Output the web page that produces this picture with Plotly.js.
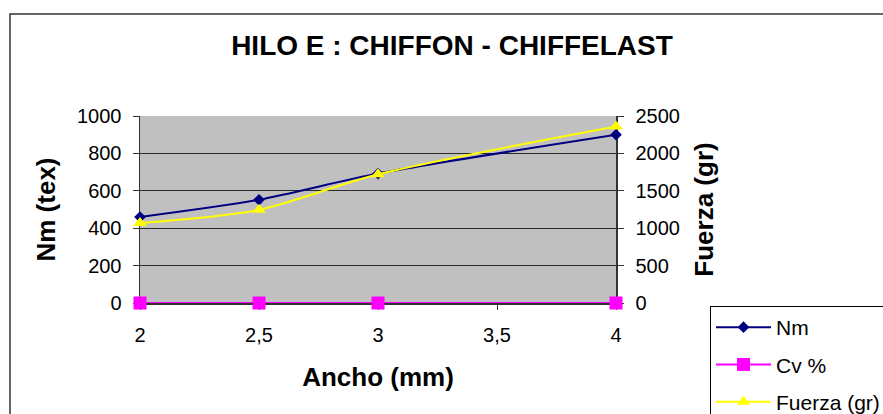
<!DOCTYPE html>
<html>
<head>
<meta charset="utf-8">
<script src="https://cdn.plot.ly/plotly-3.0.1.min.js"></script>
<style>
  html, body { margin: 0; padding: 0; background: #ffffff; }
  #chart { width: 883px; height: 414px; }
</style>
</head>
<body>
<div id="chart"></div>
<script>
// Ancho del hilo (mm)
const ancho = [2, 2.5, 3, 4];
// Número métrico
const nm = [460, 552, 692, 900];
// Coeficiente de variación
const cv = [0, 0, 0, 0];
// Fuerza de rotura (gr)
const fuerza = [1070, 1245, 1720, 2360];

const FONT = 'Liberation Sans, Arial, sans-serif';

const traces = [
  {
    name: 'Nm', x: ancho, y: nm, yaxis: 'y', type: 'scatter', mode: 'lines+markers',
    line: { color: '#000080', width: 2, shape: 'spline', smoothing: 0.8 },
    marker: { symbol: 'diamond', size: 9, color: '#000080' },
    cliponaxis: false, legendgroup: 'a'
  },
  {
    name: 'Cv %', x: ancho, y: cv, yaxis: 'y', type: 'scatter', mode: 'lines+markers',
    line: { color: '#FF00FF', width: 2 },
    marker: { symbol: 'square', size: 13, color: '#FF00FF' },
    cliponaxis: false, legendgroup: 'b'
  },
  {
    name: 'Fuerza (gr)', x: ancho, y: fuerza, yaxis: 'y2', type: 'scatter', mode: 'lines+markers',
    line: { color: '#FFFF00', width: 2, shape: 'spline', smoothing: 0.8 },
    marker: { symbol: 'triangle-up', size: 12, color: '#FFFF00' },
    cliponaxis: false, legendgroup: 'c'
  }
];

const layout = {
  width: 883, height: 414,
  margin: { l: 140, r: 267, t: 116, b: 111, pad: 0, autoexpand: false },
  paper_bgcolor: '#ffffff',
  plot_bgcolor: '#C0C0C0',
  separators: ',.',
  font: { family: FONT, color: '#000000', size: 20 },
  title: {
    text: 'HILO E : CHIFFON - CHIFFELAST',
    font: { family: FONT, size: 28, weight: 700, color: '#000000' },
    xref: 'container', x: 452 / 883, xanchor: 'center',
    yref: 'container', y: 1 - 45 / 414, yanchor: 'middle'
  },
  xaxis: {
    range: [2, 4], dtick: 0.5, tick0: 2,
    showgrid: false, zeroline: false, layer: 'below traces',
    showline: true, linecolor: '#333333', linewidth: 1.5,
    ticks: 'outside', ticklen: 5, tickcolor: '#333333',
    ticklabelstandoff: 8,
    tickfont: { family: FONT, size: 20 },
    title: { text: 'Ancho (mm)', font: { family: FONT, size: 26, weight: 700 }, standoff: 23 }
  },
  yaxis: {
    range: [0, 1000], dtick: 200,
    showgrid: true, gridcolor: '#2a2a2a', gridwidth: 1, zeroline: false,
    layer: 'below traces',
    showline: true, linecolor: '#333333', linewidth: 1.5,
    ticks: 'outside', ticklen: 6, tickcolor: '#333333',
    ticklabelstandoff: 7,
    tickfont: { family: FONT, size: 20 },
    title: { text: 'Nm (tex)', font: { family: FONT, size: 26, weight: 700 }, standoff: 14 }
  },
  yaxis2: {
    range: [0, 2500], dtick: 500,
    overlaying: 'y', side: 'right',
    showgrid: false, zeroline: false, layer: 'below traces',
    showline: true, linecolor: '#333333', linewidth: 1.5,
    ticks: 'outside', ticklen: 6, tickcolor: '#333333',
    ticklabelstandoff: 8,
    tickfont: { family: FONT, size: 20 },
    title: { text: 'Fuerza (gr)', font: { family: FONT, size: 26, weight: 700 }, standoff: 16 }
  },
  showlegend: true,
  legend: {
    x: (710 - 140) / 476, xanchor: 'left',
    y: (303 - 306) / 187, yanchor: 'top',
    bgcolor: '#ffffff', bordercolor: '#000000', borderwidth: 1,
    font: { family: FONT, size: 21, color: '#000000' },
    traceorder: 'grouped', tracegroupgap: 7, itemwidth: 55
  },
  shapes: [
    {
      type: 'rect', xref: 'paper', yref: 'paper', layer: 'below',
      x0: (10 - 140) / 476, x1: (900 - 140) / 476,
      y0: (303 - 430) / 187, y1: (303 - 14) / 187,
      line: { color: '#333333', width: 1.5 }, fillcolor: 'rgba(0,0,0,0)'
    }
  ]
};

Plotly.newPlot('chart', traces, layout, { staticPlot: true, displayModeBar: false });
</script>
</body>
</html>
